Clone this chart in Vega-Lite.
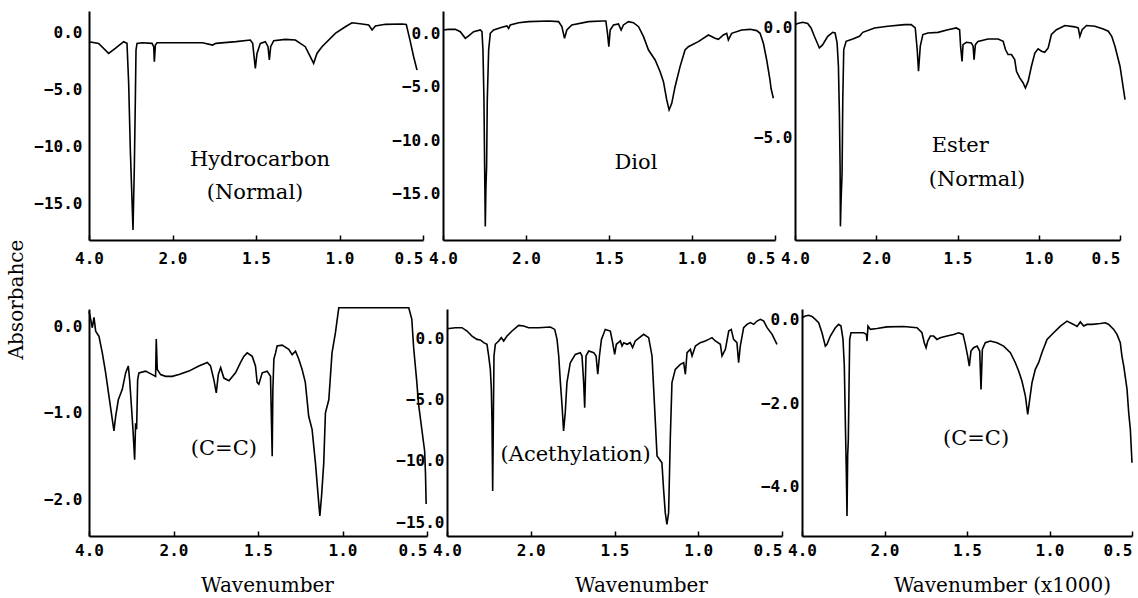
{
  "$schema": "https://vega.github.io/schema/vega-lite/v6.json",
  "background": "white",
  "padding": {"left": 5, "top": 11, "right": 0, "bottom": 0},
  "config": {
    "view": {"stroke": null},
    "axis": {"domainColor": "black", "domainWidth": 2, "labelFont": "DejaVu Sans Mono", "labelFontSize": 16, "labelFontWeight": "bold", "labelColor": "black", "grid": false, "tickColor": "black", "tickWidth": 1.5, "titleFont": "DejaVu Serif", "titleFontSize": 20, "titleFontWeight": "normal", "titleColor": "black"},
    "line": {"color": "black", "strokeWidth": 1.6},
    "text": {"font": "DejaVu Serif", "fontSize": 21, "color": "black", "align": "center", "baseline": "middle"}
  },
  "datasets": {
    "p1": [
      {"w":4.0,"a":-0.80},{"w":3.77,"a":-0.95},{"w":3.53,"a":-1.83},{"w":3.37,"a":-1.39},{"w":3.17,"a":-0.80},{"w":3.09,"a":-0.95},{"w":3.05,"a":-4.46},{"w":3.01,"a":-10.31},{"w":2.97,"a":-14.69},{"w":2.946,"a":-17.32},{"w":2.914,"a":-11.77},{"w":2.89,"a":-5.92},{"w":2.874,"a":-1.54},{"w":2.85,"a":-0.95},{"w":2.73,"a":-0.89},{"w":2.49,"a":-0.95},{"w":2.45,"a":-1.24},{"w":2.435,"a":-2.56},{"w":2.41,"a":-1.10},{"w":2.37,"a":-0.89},{"w":1.82,"a":-0.89},{"w":1.76,"a":-1.10},{"w":1.74,"a":-0.95},{"w":1.62,"a":-0.80},{"w":1.534,"a":-0.66},{"w":1.52,"a":-0.95},{"w":1.504,"a":-3.14},{"w":1.494,"a":-1.83},{"w":1.474,"a":-0.95},{"w":1.444,"a":-0.80},{"w":1.428,"a":-1.24},{"w":1.42,"a":-2.41},{"w":1.412,"a":-1.24},{"w":1.394,"a":-0.72},{"w":1.324,"a":-0.60},{"w":1.264,"a":-0.66},{"w":1.205,"a":-1.24},{"w":1.175,"a":-2.12},{"w":1.155,"a":-2.70},{"w":1.135,"a":-1.83},{"w":1.105,"a":-1.24},{"w":1.025,"a":-0.07},{"w":0.965,"a":0.51},{"w":0.925,"a":0.86},{"w":0.865,"a":0.75},{"w":0.825,"a":0.66},{"w":0.805,"a":0.22},{"w":0.785,"a":0.57},{"w":0.725,"a":0.72},{"w":0.625,"a":0.75},{"w":0.60,"a":0.70},{"w":0.578,"a":-0.66},{"w":0.556,"a":-2.12},{"w":0.536,"a":-3.29}
    ],
    "p2": [
      {"w":4.0,"a":0.29},{"w":3.864,"a":0.35},{"w":3.703,"a":0.35},{"w":3.583,"a":0.13},{"w":3.462,"a":-0.49},{"w":3.382,"a":-0.27},{"w":3.262,"a":0.13},{"w":3.101,"a":0.29},{"w":3.061,"a":0.13},{"w":3.037,"a":-1.58},{"w":3.013,"a":-6.24},{"w":2.997,"a":-12.42},{"w":2.981,"a":-18.05},{"w":2.965,"a":-14.32},{"w":2.949,"a":-12.42},{"w":2.933,"a":-6.24},{"w":2.90,"a":-1.58},{"w":2.86,"a":-0.02},{"w":2.78,"a":0.29},{"w":2.579,"a":0.54},{"w":2.459,"a":0.66},{"w":2.419,"a":0.44},{"w":2.379,"a":0.76},{"w":2.178,"a":0.97},{"w":1.984,"a":1.07},{"w":1.864,"a":1.13},{"w":1.804,"a":1.07},{"w":1.784,"a":0.60},{"w":1.768,"a":-0.49},{"w":1.754,"a":0.29},{"w":1.724,"a":0.76},{"w":1.623,"a":1.07},{"w":1.543,"a":1.13},{"w":1.519,"a":1.13},{"w":1.509,"a":-0.02},{"w":1.501,"a":-1.27},{"w":1.493,"a":0.29},{"w":1.473,"a":0.76},{"w":1.443,"a":0.85},{"w":1.427,"a":0.29},{"w":1.413,"a":0.76},{"w":1.383,"a":1.07},{"w":1.353,"a":0.97},{"w":1.322,"a":0.60},{"w":1.292,"a":-0.33},{"w":1.262,"a":-1.58},{"w":1.222,"a":-2.51},{"w":1.192,"a":-3.60},{"w":1.172,"a":-4.53},{"w":1.152,"a":-6.24},{"w":1.138,"a":-7.17},{"w":1.122,"a":-6.55},{"w":1.102,"a":-5.0},{"w":1.072,"a":-3.13},{"w":1.042,"a":-1.58},{"w":1.022,"a":-1.27},{"w":0.962,"a":-0.80},{"w":0.901,"a":-0.18},{"w":0.861,"a":-0.49},{"w":0.841,"a":-0.58},{"w":0.811,"a":-0.18},{"w":0.791,"a":-0.02},{"w":0.781,"a":-0.64},{"w":0.771,"a":-0.33},{"w":0.761,"a":-0.02},{"w":0.701,"a":0.29},{"w":0.65,"a":0.35},{"w":0.61,"a":0.23},{"w":0.59,"a":-0.02},{"w":0.57,"a":-0.95},{"w":0.55,"a":-2.51},{"w":0.53,"a":-4.38},{"w":0.524,"a":-5.15},{"w":0.51,"a":-6.08}
    ],
    "p3": [
      {"w":4.0,"a":0.15},{"w":3.934,"a":0.20},{"w":3.811,"a":0.26},{"w":3.688,"a":0.20},{"w":3.605,"a":0},{"w":3.523,"a":-0.38},{"w":3.40,"a":-0.91},{"w":3.318,"a":-0.76},{"w":3.194,"a":-0.38},{"w":3.071,"a":-0.20},{"w":3.013,"a":-0.23},{"w":2.964,"a":-0.68},{"w":2.931,"a":-1.74},{"w":2.906,"a":-4.02},{"w":2.89,"a":-6.29},{"w":2.882,"a":-9.02},{"w":2.865,"a":-7.80},{"w":2.841,"a":-6.59},{"w":2.824,"a":-3.26},{"w":2.80,"a":-0.98},{"w":2.742,"a":-0.61},{"w":2.578,"a":-0.50},{"w":2.413,"a":-0.38},{"w":2.331,"a":-0.20},{"w":2.043,"a":0},{"w":1.929,"a":0.08},{"w":1.826,"a":0.15},{"w":1.785,"a":0.15},{"w":1.76,"a":0},{"w":1.748,"a":-0.98},{"w":1.74,"a":-1.97},{"w":1.729,"a":-0.83},{"w":1.713,"a":-0.30},{"w":1.682,"a":-0.23},{"w":1.62,"a":-0.20},{"w":1.559,"a":-0.08},{"w":1.507,"a":0},{"w":1.487,"a":-0.08},{"w":1.481,"a":-0.83},{"w":1.472,"a":-1.52},{"w":1.466,"a":-0.76},{"w":1.446,"a":-0.65},{"w":1.415,"a":-0.68},{"w":1.404,"a":-0.83},{"w":1.398,"a":-1.44},{"w":1.39,"a":-0.76},{"w":1.374,"a":-0.61},{"w":1.312,"a":-0.50},{"w":1.25,"a":-0.50},{"w":1.219,"a":-0.61},{"w":1.205,"a":-0.98},{"w":1.189,"a":-1.21},{"w":1.168,"a":-1.21},{"w":1.148,"a":-1.44},{"w":1.137,"a":-1.97},{"w":1.117,"a":-2.27},{"w":1.096,"a":-2.50},{"w":1.082,"a":-2.73},{"w":1.065,"a":-2.42},{"w":1.045,"a":-1.74},{"w":1.024,"a":-1.14},{"w":1.004,"a":-0.95},{"w":0.983,"a":-1.06},{"w":0.963,"a":-1.11},{"w":0.942,"a":-0.91},{"w":0.922,"a":-0.30},{"w":0.891,"a":-0.08},{"w":0.839,"a":0.11},{"w":0.778,"a":0.05},{"w":0.757,"a":0},{"w":0.747,"a":-0.38},{"w":0.733,"a":-0.08},{"w":0.706,"a":0.11},{"w":0.654,"a":0.08},{"w":0.603,"a":-0.05},{"w":0.572,"a":-0.15},{"w":0.551,"a":-0.38},{"w":0.531,"a":-0.83},{"w":0.50,"a":-1.74},{"w":0.469,"a":-3.26}
    ],
    "p4": [
      {"w":4.0,"a":0.17},{"w":3.961,"a":0.08},{"w":3.921,"a":-0.02},{"w":3.882,"a":0.10},{"w":3.842,"a":-0.06},{"w":3.764,"a":-0.12},{"w":3.685,"a":-0.31},{"w":3.606,"a":-0.54},{"w":3.527,"a":-0.81},{"w":3.448,"a":-1.08},{"w":3.409,"a":-1.21},{"w":3.369,"a":-1.04},{"w":3.306,"a":-0.85},{"w":3.212,"a":-0.73},{"w":3.133,"a":-0.54},{"w":3.07,"a":-0.46},{"w":3.038,"a":-0.62},{"w":2.991,"a":-0.96},{"w":2.96,"a":-1.19},{"w":2.92,"a":-1.54},{"w":2.897,"a":-1.12},{"w":2.873,"a":-1.19},{"w":2.849,"a":-0.62},{"w":2.818,"a":-0.54},{"w":2.66,"a":-0.52},{"w":2.502,"a":-0.56},{"w":2.424,"a":-0.58},{"w":2.408,"a":-0.15},{"w":2.384,"a":-0.50},{"w":2.305,"a":-0.56},{"w":2.187,"a":-0.58},{"w":2.03,"a":-0.58},{"w":1.968,"a":-0.56},{"w":1.909,"a":-0.52},{"w":1.85,"a":-0.46},{"w":1.80,"a":-0.42},{"w":1.781,"a":-0.46},{"w":1.761,"a":-0.62},{"w":1.747,"a":-0.77},{"w":1.735,"a":-0.56},{"w":1.721,"a":-0.48},{"w":1.702,"a":-0.60},{"w":1.672,"a":-0.63},{"w":1.633,"a":-0.54},{"w":1.603,"a":-0.42},{"w":1.584,"a":-0.35},{"w":1.564,"a":-0.31},{"w":1.534,"a":-0.35},{"w":1.515,"a":-0.46},{"w":1.505,"a":-0.65},{"w":1.495,"a":-0.67},{"w":1.475,"a":-0.54},{"w":1.446,"a":-0.52},{"w":1.426,"a":-0.58},{"w":1.416,"a":-1.50},{"w":1.412,"a":-0.73},{"w":1.406,"a":-0.38},{"w":1.396,"a":-0.31},{"w":1.387,"a":-0.23},{"w":1.357,"a":-0.22},{"w":1.318,"a":-0.27},{"w":1.298,"a":-0.33},{"w":1.278,"a":-0.29},{"w":1.259,"a":-0.38},{"w":1.239,"a":-0.50},{"w":1.22,"a":-0.65},{"w":1.20,"a":-1.04},{"w":1.18,"a":-1.19},{"w":1.16,"a":-1.58},{"w":1.144,"a":-1.96},{"w":1.134,"a":-2.19},{"w":1.124,"a":-1.96},{"w":1.111,"a":-1.58},{"w":1.101,"a":-1.0},{"w":1.081,"a":-0.85},{"w":1.062,"a":-0.31},{"w":1.042,"a":-0.08},{"w":1.022,"a":0.21},{"w":0.864,"a":0.21},{"w":0.667,"a":0.21},{"w":0.608,"a":0.21},{"w":0.59,"a":0.08},{"w":0.579,"a":-0.25},{"w":0.561,"a":-0.63},{"w":0.55,"a":-0.90},{"w":0.514,"a":-1.44},{"w":0.509,"a":-1.70},{"w":0.505,"a":-2.05}
    ],
    "p5": [
      {"w":4.0,"a":0.76},{"w":3.801,"a":0.84},{"w":3.642,"a":0.84},{"w":3.522,"a":0.57},{"w":3.403,"a":0.16},{"w":3.284,"a":-0.11},{"w":3.204,"a":-0.16},{"w":3.124,"a":-0.38},{"w":3.045,"a":-0.51},{"w":3.005,"a":-1.46},{"w":2.965,"a":-2.55},{"w":2.941,"a":-4.17},{"w":2.925,"a":-6.88},{"w":2.909,"a":-12.44},{"w":2.894,"a":-6.88},{"w":2.878,"a":-1.46},{"w":2.846,"a":-0.51},{"w":2.766,"a":-0.24},{"w":2.703,"a":0.03},{"w":2.647,"a":-0.24},{"w":2.567,"a":0.16},{"w":2.448,"a":0.57},{"w":2.289,"a":1.03},{"w":2.169,"a":0.98},{"w":2.05,"a":0.84},{"w":1.953,"a":0.84},{"w":1.883,"a":0.89},{"w":1.857,"a":0.70},{"w":1.843,"a":-0.11},{"w":1.833,"a":-1.46},{"w":1.823,"a":-3.63},{"w":1.813,"a":-5.53},{"w":1.804,"a":-7.56},{"w":1.794,"a":-6.07},{"w":1.784,"a":-3.63},{"w":1.764,"a":-2.01},{"w":1.734,"a":-1.33},{"w":1.704,"a":-1.19},{"w":1.694,"a":-1.46},{"w":1.684,"a":-3.63},{"w":1.678,"a":-5.66},{"w":1.67,"a":-1.46},{"w":1.654,"a":-1.06},{"w":1.624,"a":-1.19},{"w":1.61,"a":-1.46},{"w":1.60,"a":-2.95},{"w":1.59,"a":-1.46},{"w":1.578,"a":-0.11},{"w":1.555,"a":0.70},{"w":1.525,"a":0.57},{"w":1.511,"a":-0.38},{"w":1.499,"a":-1.33},{"w":1.489,"a":-0.51},{"w":1.465,"a":-0.24},{"w":1.455,"a":-0.65},{"w":1.445,"a":-0.38},{"w":1.425,"a":-0.51},{"w":1.406,"a":-0.38},{"w":1.392,"a":-0.78},{"w":1.376,"a":-0.24},{"w":1.326,"a":0.30},{"w":1.296,"a":0.03},{"w":1.276,"a":-1.46},{"w":1.266,"a":-4.17},{"w":1.256,"a":-6.88},{"w":1.246,"a":-9.59},{"w":1.232,"a":-9.86},{"w":1.217,"a":-10.14},{"w":1.207,"a":-12.30},{"w":1.197,"a":-14.20},{"w":1.187,"a":-15.15},{"w":1.177,"a":-14.20},{"w":1.167,"a":-8.24},{"w":1.157,"a":-3.63},{"w":1.137,"a":-2.55},{"w":1.107,"a":-2.14},{"w":1.087,"a":-2.01},{"w":1.077,"a":-2.95},{"w":1.067,"a":-1.19},{"w":1.047,"a":-0.92},{"w":1.037,"a":-1.46},{"w":1.017,"a":-0.65},{"w":0.988,"a":-0.38},{"w":0.958,"a":-0.24},{"w":0.938,"a":-0.11},{"w":0.918,"a":0.03},{"w":0.898,"a":-0.24},{"w":0.868,"a":-0.51},{"w":0.858,"a":-1.46},{"w":0.838,"a":-0.92},{"w":0.818,"a":0.57},{"w":0.803,"a":0.70},{"w":0.789,"a":-0.11},{"w":0.769,"a":-0.38},{"w":0.759,"a":-2.01},{"w":0.749,"a":-0.65},{"w":0.729,"a":0.84},{"w":0.709,"a":1.11},{"w":0.689,"a":1.25},{"w":0.669,"a":1.11},{"w":0.649,"a":1.38},{"w":0.629,"a":1.52},{"w":0.609,"a":1.38},{"w":0.589,"a":0.84},{"w":0.559,"a":0.30},{"w":0.53,"a":-0.51}
    ],
    "p6": [
      {"w":4.0,"a":0.05},{"w":3.919,"a":0.09},{"w":3.838,"a":0.11},{"w":3.758,"a":0.08},{"w":3.677,"a":0.01},{"w":3.596,"a":-0.07},{"w":3.515,"a":-0.31},{"w":3.434,"a":-0.63},{"w":3.394,"a":-0.59},{"w":3.313,"a":-0.39},{"w":3.192,"a":-0.19},{"w":3.111,"a":-0.11},{"w":3.055,"a":-0.15},{"w":3.006,"a":-0.47},{"w":2.974,"a":-1.11},{"w":2.949,"a":-2.47},{"w":2.925,"a":-3.67},{"w":2.909,"a":-4.71},{"w":2.893,"a":-3.27},{"w":2.877,"a":-2.87},{"w":2.861,"a":-1.67},{"w":2.844,"a":-0.47},{"w":2.812,"a":-0.31},{"w":2.667,"a":-0.31},{"w":2.505,"a":-0.31},{"w":2.44,"a":-0.35},{"w":2.424,"a":-0.51},{"w":2.40,"a":-0.15},{"w":2.343,"a":-0.23},{"w":2.182,"a":-0.21},{"w":1.985,"a":-0.17},{"w":1.884,"a":-0.16},{"w":1.803,"a":-0.19},{"w":1.773,"a":-0.31},{"w":1.759,"a":-0.55},{"w":1.748,"a":-0.67},{"w":1.738,"a":-0.51},{"w":1.722,"a":-0.39},{"w":1.702,"a":-0.39},{"w":1.682,"a":-0.47},{"w":1.662,"a":-0.43},{"w":1.621,"a":-0.39},{"w":1.581,"a":-0.35},{"w":1.551,"a":-0.31},{"w":1.524,"a":-0.35},{"w":1.51,"a":-0.59},{"w":1.496,"a":-0.87},{"w":1.486,"a":-1.11},{"w":1.476,"a":-0.75},{"w":1.46,"a":-0.67},{"w":1.439,"a":-0.63},{"w":1.423,"a":-0.75},{"w":1.415,"a":-1.67},{"w":1.407,"a":-0.71},{"w":1.389,"a":-0.55},{"w":1.359,"a":-0.51},{"w":1.318,"a":-0.55},{"w":1.278,"a":-0.63},{"w":1.237,"a":-0.79},{"w":1.207,"a":-1.03},{"w":1.187,"a":-1.23},{"w":1.167,"a":-1.47},{"w":1.146,"a":-1.83},{"w":1.132,"a":-2.27},{"w":1.12,"a":-1.91},{"w":1.106,"a":-1.51},{"w":1.086,"a":-1.19},{"w":1.066,"a":-1.03},{"w":1.046,"a":-0.79},{"w":1.015,"a":-0.47},{"w":0.975,"a":-0.31},{"w":0.934,"a":-0.15},{"w":0.894,"a":-0.03},{"w":0.854,"a":-0.11},{"w":0.833,"a":-0.16},{"w":0.813,"a":-0.05},{"w":0.793,"a":-0.15},{"w":0.773,"a":-0.11},{"w":0.742,"a":-0.11},{"w":0.692,"a":-0.09},{"w":0.662,"a":-0.07},{"w":0.641,"a":-0.11},{"w":0.611,"a":-0.23},{"w":0.591,"a":-0.35},{"w":0.571,"a":-0.55},{"w":0.561,"a":-0.87},{"w":0.55,"a":-1.11},{"w":0.53,"a":-1.67},{"w":0.52,"a":-2.23},{"w":0.51,"a":-2.63},{"w":0.50,"a":-3.43}
    ]
  },
  "bounds": "flush",
  "spacing": 298,
  "vconcat": [
    {
      "bounds": "flush",
      "spacing": 20,
      "hconcat": [
        {
          "width": 334, "height": 229,
          "encoding": {
            "x": {"field": "w", "type": "quantitative", "scale": {"domain": [4, 2, 0.5], "range": [0, 83.5, 334], "nice": false, "zero": false}, "axis": {"values": [4, 2, 1.5, 1, 0.5], "format": ".1f", "title": null, "labelFlush": false, "labelAlign": {"condition": {"test": "datum.value <= 0.5", "value": "right"}, "value": "center"}, "tickSize": -5, "labelPadding": 15}},
            "y": {"field": "a", "type": "quantitative", "scale": {"domain": [-18.2, 1.89], "nice": false, "zero": false}, "axis": {"values": [0, -5, -10, -15], "format": ".1f", "title": null, "ticks": false, "labelPadding": 7}}
          },
          "layer": [
            {"data": {"name": "p1"}, "mark": {"type": "line"}},
            {"data": {"values": [{"w": 1.476, "a": -11.18, "label": "Hydrocarbon"}, {"w": 1.506, "a": -14.08, "label": "(Normal)"}]}, "mark": {"type": "text"}, "encoding": {"text": {"field": "label"}}}
          ]
        },
        {
          "width": 332, "height": 229,
          "encoding": {
            "x": {"field": "w", "type": "quantitative", "scale": {"domain": [4, 2, 0.5], "range": [0, 83, 332], "nice": false, "zero": false}, "axis": {"values": [4, 2, 1.5, 1, 0.5], "format": ".1f", "title": null, "labelFlush": false, "labelAlign": {"condition": {"test": "datum.value <= 0.5", "value": "right"}, "value": "center"}, "tickSize": -5, "labelPadding": 15}},
            "y": {"field": "a", "type": "quantitative", "scale": {"domain": [-19.3, 2.06], "nice": false, "zero": false}, "axis": {"values": [0, -5, -10, -15], "format": ".1f", "title": null, "ticks": false, "labelPadding": 3}}
          },
          "layer": [
            {"data": {"name": "p2"}, "mark": {"type": "line"}},
            {"data": {"values": [{"w": 1.338, "a": -12.15, "label": "Diol"}]}, "mark": {"type": "text"}, "encoding": {"text": {"field": "label"}}}
          ]
        },
        {
          "width": 325, "height": 229,
          "encoding": {
            "x": {"field": "w", "type": "quantitative", "scale": {"domain": [4, 2, 0.5], "range": [0, 81.25, 325], "nice": false, "zero": false}, "axis": {"values": [4, 2, 1.5, 1, 0.5], "format": ".1f", "title": null, "labelFlush": false, "labelAlign": {"condition": {"test": "datum.value <= 0.5", "value": "right"}, "value": "center"}, "tickSize": -5, "labelPadding": 15}},
            "y": {"field": "a", "type": "quantitative", "scale": {"domain": [-9.64, 0.77], "nice": false, "zero": false}, "axis": {"values": [0, -5], "format": ".1f", "title": null, "ticks": false, "labelPadding": 3}}
          },
          "layer": [
            {"data": {"name": "p3"}, "mark": {"type": "line"}},
            {"data": {"values": [{"w": 1.483, "a": -5.38, "label": "Ester"}, {"w": 1.38, "a": -6.89, "label": "(Normal)"}]}, "mark": {"type": "text"}, "encoding": {"text": {"field": "label"}}}
          ]
        }
      ]
    },
    {
      "bounds": "flush",
      "spacing": 20,
      "hconcat": [
        {
          "width": 338, "height": 227,
          "encoding": {
            "x": {"field": "w", "type": "quantitative", "scale": {"domain": [4, 2, 0.5], "range": [0, 84.5, 338], "nice": false, "zero": false}, "axis": {"values": [4, 2, 1.5, 1, 0.5], "format": ".1f", "title": "Wavenumber", "titleX": 178, "titleY": 55, "titleBaseline": "alphabetic", "titleAlign": "center", "labelFlush": false, "labelAlign": {"condition": {"test": "datum.value <= 0.5", "value": "right"}, "value": "center"}, "tickSize": -5, "labelPadding": 11}},
            "y": {"field": "a", "type": "quantitative", "scale": {"domain": [-2.42, 0.196], "nice": false, "zero": false}, "axis": {"values": [0, -1, -2], "format": ".1f", "title": "Absorbahce", "titleX": -67, "titleY": -10, "titleAngle": 270, "titleAlign": "center", "titleBaseline": "alphabetic", "ticks": false, "labelPadding": 7}}
          },
          "layer": [
            {"data": {"name": "p4"}, "mark": {"type": "line"}},
            {"data": {"values": [{"w": 1.702, "a": -1.415, "label": "(C=C)"}]}, "mark": {"type": "text"}, "encoding": {"text": {"field": "label"}}}
          ]
        },
        {
          "width": 335, "height": 227,
          "encoding": {
            "x": {"field": "w", "type": "quantitative", "scale": {"domain": [4, 2, 0.5], "range": [0, 83.75, 335], "nice": false, "zero": false}, "axis": {"values": [4, 2, 1.5, 1, 0.5], "format": ".1f", "title": "Wavenumber", "titleX": 194, "titleY": 55, "titleBaseline": "alphabetic", "titleAlign": "center", "labelFlush": false, "labelAlign": {"condition": {"test": "datum.value <= 0.5", "value": "right"}, "value": "center"}, "tickSize": -5, "labelPadding": 11}},
            "y": {"field": "a", "type": "quantitative", "scale": {"domain": [-16.1, 2.36], "nice": false, "zero": false}, "axis": {"values": [0, -5, -10, -15], "format": ".1f", "title": null, "ticks": false, "labelPadding": 3}}
          },
          "layer": [
            {"data": {"name": "p5"}, "mark": {"type": "line"}},
            {"data": {"values": [{"w": 1.732, "a": -9.54, "label": "(Acethylation)"}]}, "mark": {"type": "text"}, "encoding": {"text": {"field": "label"}}}
          ]
        },
        {
          "width": 330, "height": 227,
          "encoding": {
            "x": {"field": "w", "type": "quantitative", "scale": {"domain": [4, 2, 0.5], "range": [0, 82.5, 330], "nice": false, "zero": false}, "axis": {"values": [4, 2, 1.5, 1, 0.5], "format": ".1f", "title": "Wavenumber (x1000)", "titleX": 200, "titleY": 55, "titleBaseline": "alphabetic", "titleAlign": "center", "labelFlush": false, "labelAlign": {"condition": {"test": "datum.value <= 0.5", "value": "right"}, "value": "center"}, "tickSize": -5, "labelPadding": 11}},
            "y": {"field": "a", "type": "quantitative", "scale": {"domain": [-5.19, 0.26], "nice": false, "zero": false}, "axis": {"values": [0, -2, -4], "format": ".1f", "title": null, "ticks": false, "labelPadding": 3}}
          },
          "layer": [
            {"data": {"name": "p6"}, "mark": {"type": "line"}},
            {"data": {"values": [{"w": 1.445, "a": -2.87, "label": "(C=C)"}]}, "mark": {"type": "text"}, "encoding": {"text": {"field": "label"}}}
          ]
        }
      ]
    }
  ]
}
